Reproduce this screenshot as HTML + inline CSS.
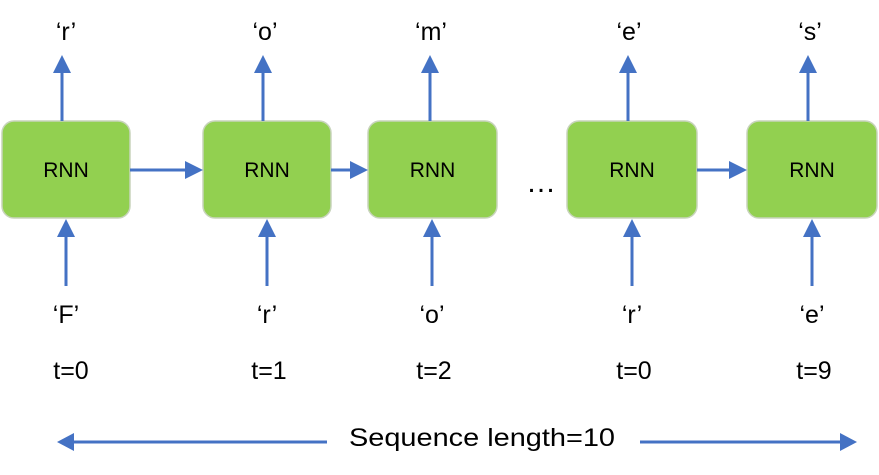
<!DOCTYPE html>
<html><head><meta charset="utf-8"><style>
body{margin:0;background:#fff;width:879px;height:470px;overflow:hidden}
svg text{font-family:"Liberation Sans",sans-serif;fill:#000}
</style></head><body>
<svg width="879" height="470" viewBox="0 0 879 470">
<g id="g"></g>
<g font-size="25" text-anchor="middle">
<text x="66" y="40">‘r’</text>
<text x="265" y="40">‘o’</text>
<text x="431" y="40">‘m’</text>
<text x="629" y="40">‘e’</text>
<text x="810" y="40">‘s’</text>
<text x="66" y="323">‘F’</text>
<text x="267" y="323">‘r’</text>
<text x="432" y="323">‘o’</text>
<text x="632" y="323">‘r’</text>
<text x="812" y="323">‘e’</text>
<text x="71" y="379">t=0</text>
<text x="269" y="379">t=1</text>
<text x="434" y="379">t=2</text>
<text x="634" y="379">t=0</text>
<text x="814" y="379">t=9</text>
</g>
<text x="541" y="192" font-size="30" text-anchor="middle">…</text>
<text x="482" y="446" font-size="25" text-anchor="middle" textLength="266" lengthAdjust="spacingAndGlyphs">Sequence length=10</text>
<line x1="72" y1="442" x2="327" y2="442" stroke="#4472C4" stroke-width="3"/>
<path d="M57,442 L74,433 L74,451 z" fill="#4472C4"/>
<line x1="640" y1="442" x2="842" y2="442" stroke="#4472C4" stroke-width="3"/>
<path d="M857,442 L840,433 L840,451 z" fill="#4472C4"/>
</svg>
<script>
const boxes=[[2,130],[203,331],[368,497],[567,697],[747,877]];
const upX=[62,263,430,628,808];
const inX=[66,267,432,632,812];
const g=document.getElementById('g');
const NS='http://www.w3.org/2000/svg';
function mk(t,a){const e=document.createElementNS(NS,t);for(const k in a)e.setAttribute(k,a[k]);g.appendChild(e);return e;}
boxes.forEach((b,i)=>{
 const r=mk('rect',{x:b[0],y:121,width:b[1]-b[0],height:97,rx:12,fill:'#92D050',stroke:'#c8d4bc','stroke-width':1.5});
 
 
 const t=mk('text',{x:(b[0]+b[1])/2,y:177,'font-size':21,'text-anchor':'middle'});t.textContent='RNN';
 
 
 const u=mk('line',{x1:upX[i],y1:121,x2:upX[i],y2:70,stroke:'#4472C4','stroke-width':3});
 
 
 mk('path',{d:`M${upX[i]},55 L${upX[i]-9},73 L${upX[i]+9},73 z`,fill:'#4472C4'});
 const d=mk('line',{x1:inX[i],y1:286,x2:inX[i],y2:234,stroke:'#4472C4','stroke-width':3});
 
 
 mk('path',{d:`M${inX[i]},219 L${inX[i]-9},237 L${inX[i]+9},237 z`,fill:'#4472C4'});
});
[[0,1],[1,2],[3,4]].forEach(p=>{
 const x1=boxes[p[0]][1],x2=boxes[p[1]][0];
 const h=mk('line',{x1:x1,y1:170,x2:x2-16,y2:170,stroke:'#4472C4','stroke-width':3});
 
 
 mk('path',{d:`M${x2},170 L${x2-18},161 L${x2-18},179 z`,fill:'#4472C4'});
});
</script>
</body></html>
